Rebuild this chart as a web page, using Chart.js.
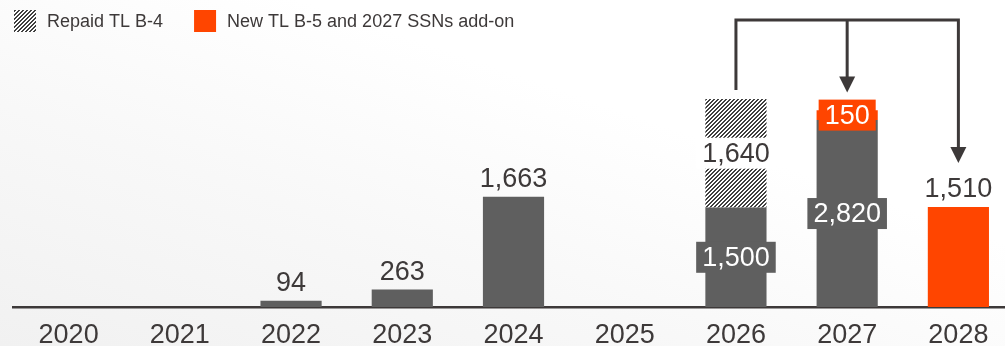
<!DOCTYPE html>
<html>
<head>
<meta charset="utf-8" />
<title>Debt maturity profile</title>
<script src="https://cdn.jsdelivr.net/npm/chart.js@4/dist/chart.umd.min.js"></script>
<style>
	html, body {
		margin: 0;
		padding: 0;
		width: 1005px;
		height: 346px;
		overflow: hidden;
	}
	body {
		background: linear-gradient(to top right, #f1f1f1 0%, #f8f8f8 35%, #ffffff 65%);
	}
	/* canvas runs a little past the right edge, the last bar sits flush with it */
	#wrap {
		width: 1014px;
		height: 346px;
	}
</style>
</head>
<body>
<div id="wrap"><canvas id="maturities" width="1014" height="346"></canvas></div>
<script>
// maturities by year, EUR m
const years = ["2020", "2021", "2022", "2023", "2024", "2025", "2026", "2027", "2028"];
const existingDebt = [null, null, 94, 263, 1663, null, 1500, 2820, null];
const repaidB4 = [null, null, null, null, null, null, 1640, null, null];
const newB5 = [null, null, null, null, null, null, null, 150, 1510];
const seriesNames = ["Existing debt", "Repaid TL B-4", "New TL B-5 and 2027 SSNs add-on"];

const FONT = '"Liberation Sans", Arial, sans-serif';
const INK = "#3d3939";
const GREY = "#5f5f5f";
const ORANGE = "#ff4500";

// diagonal "///" hatch for the repaid tranche
function makeHatch() {
	const tile = document.createElement("canvas");
	tile.width = 4;
	tile.height = 4;
	const t = tile.getContext("2d");
	t.fillStyle = "#ffffff";
	t.fillRect(0, 0, 4, 4);
	t.fillStyle = "#404040";
	for (let px = 0; px < 4; px++) {
		for (let py = 0; py < 4; py++) {
			if ((px + py) % 4 === 0 || (px + py) % 4 === 1) t.fillRect(px, py, 1, 1);
		}
	}
	return t.createPattern(tile, "repeat");
}
const hatch = makeHatch();

// label box / text colours for values printed inside a stacked bar
const insideStyle = [
	{ box: GREY, text: "#ffffff" },
	{ box: "#ffffff", text: INK },
	{ box: ORANGE, text: "#ffffff" },
];

const valueLabels = {
	id: "valueLabels",
	afterDatasetsDraw(chart) {
		const ctx = chart.ctx;
		const sets = chart.data.datasets;
		ctx.save();
		ctx.font = "27px " + FONT;
		ctx.textAlign = "center";
		years.forEach((yr, i) => {
			const stacked = sets.filter((d) => d.data[i] != null).length > 1;
			sets.forEach((ds, di) => {
				const v = ds.data[i];
				if (v == null) return;
				const bar = chart.getDatasetMeta(di).data[i];
				const txt = v.toLocaleString("en-US");
				if (stacked) {
					const cy = (bar.y + bar.base) / 2;
					const w = ctx.measureText(txt).width + 12;
					ctx.fillStyle = insideStyle[di].box;
					ctx.fillRect(bar.x - w / 2, cy - 15.5, w, 31);
					ctx.fillStyle = insideStyle[di].text;
					ctx.textBaseline = "middle";
					ctx.fillText(txt, bar.x, cy + 1);
				} else {
					ctx.fillStyle = INK;
					ctx.textBaseline = "alphabetic";
					ctx.fillText(txt, bar.x, bar.y - 10);
				}
			});
		});
		ctx.restore();
	},
};

// arrows: repaid B-4 money going into 2027 add-on and 2028 B-5
const refiArrows = {
	id: "refiArrows",
	afterDraw(chart) {
		const ctx = chart.ctx;
		const from = chart.getDatasetMeta(1).data[6];
		const mid = chart.getDatasetMeta(2).data[7];
		const end = chart.getDatasetMeta(2).data[8];
		const topY = chart.chartArea.top;
		const midTip = (mid.y + mid.base) / 2 - 22.5;
		const endTip = end.y - 44;
		const head = 16;

		ctx.save();
		ctx.strokeStyle = INK;
		ctx.fillStyle = INK;
		ctx.lineWidth = 3;
		ctx.lineJoin = "miter";
		ctx.beginPath();
		ctx.moveTo(from.x, from.y - 9);
		ctx.lineTo(from.x, topY);
		ctx.lineTo(end.x, topY);
		ctx.lineTo(end.x, endTip - head + 1);
		ctx.moveTo(mid.x, topY);
		ctx.lineTo(mid.x, midTip - head + 1);
		ctx.stroke();

		[[mid.x, midTip], [end.x, endTip]].forEach(([ax, ay]) => {
			ctx.beginPath();
			ctx.moveTo(ax - 8, ay - head);
			ctx.lineTo(ax + 8, ay - head);
			ctx.lineTo(ax, ay);
			ctx.closePath();
			ctx.fill();
		});
		ctx.restore();
	},
};

// legend only lists the two refinancing series
const topLegend = {
	id: "topLegend",
	afterDraw(chart) {
		const ctx = chart.ctx;
		const sets = chart.data.datasets;
		let lx = 14;
		ctx.save();
		ctx.font = "18px " + FONT;
		ctx.textBaseline = "middle";
		ctx.textAlign = "left";
		[1, 2].forEach((di) => {
			ctx.fillStyle = sets[di].backgroundColor;
			ctx.fillRect(lx, 10, 22, 22);
			ctx.fillStyle = INK;
			ctx.fillText(seriesNames[di], lx + 33, 22);
			lx += 33 + ctx.measureText(seriesNames[di]).width + 31;
		});
		ctx.restore();
	},
};

new Chart(document.getElementById("maturities").getContext("2d"), {
	type: "bar",
	data: {
		labels: years,
		datasets: [
			{ label: seriesNames[0], data: existingDebt, backgroundColor: GREY },
			{ label: seriesNames[1], data: repaidB4, backgroundColor: hatch },
			{ label: seriesNames[2], data: newB5, backgroundColor: ORANGE },
		],
	},
	options: {
		responsive: false,
		animation: false,
		layout: { padding: { top: 20, left: 13, right: 0, bottom: 0 } },
		datasets: { bar: { barPercentage: 0.55, categoryPercentage: 1, borderWidth: 0 } },
		plugins: {
			legend: { display: false },
			tooltip: { enabled: false },
		},
		scales: {
			x: {
				stacked: true,
				grid: { display: false },
				border: { display: true, color: INK, width: 2.5 },
				ticks: { color: INK, font: { family: FONT, size: 27 }, padding: 4 },
				afterFit: (s) => { s.height = 39; },
			},
			y: {
				stacked: true,
				display: false,
				min: 0,
				max: 4330,
			},
		},
	},
	plugins: [valueLabels, refiArrows, topLegend],
});
</script>
</body>
</html>
